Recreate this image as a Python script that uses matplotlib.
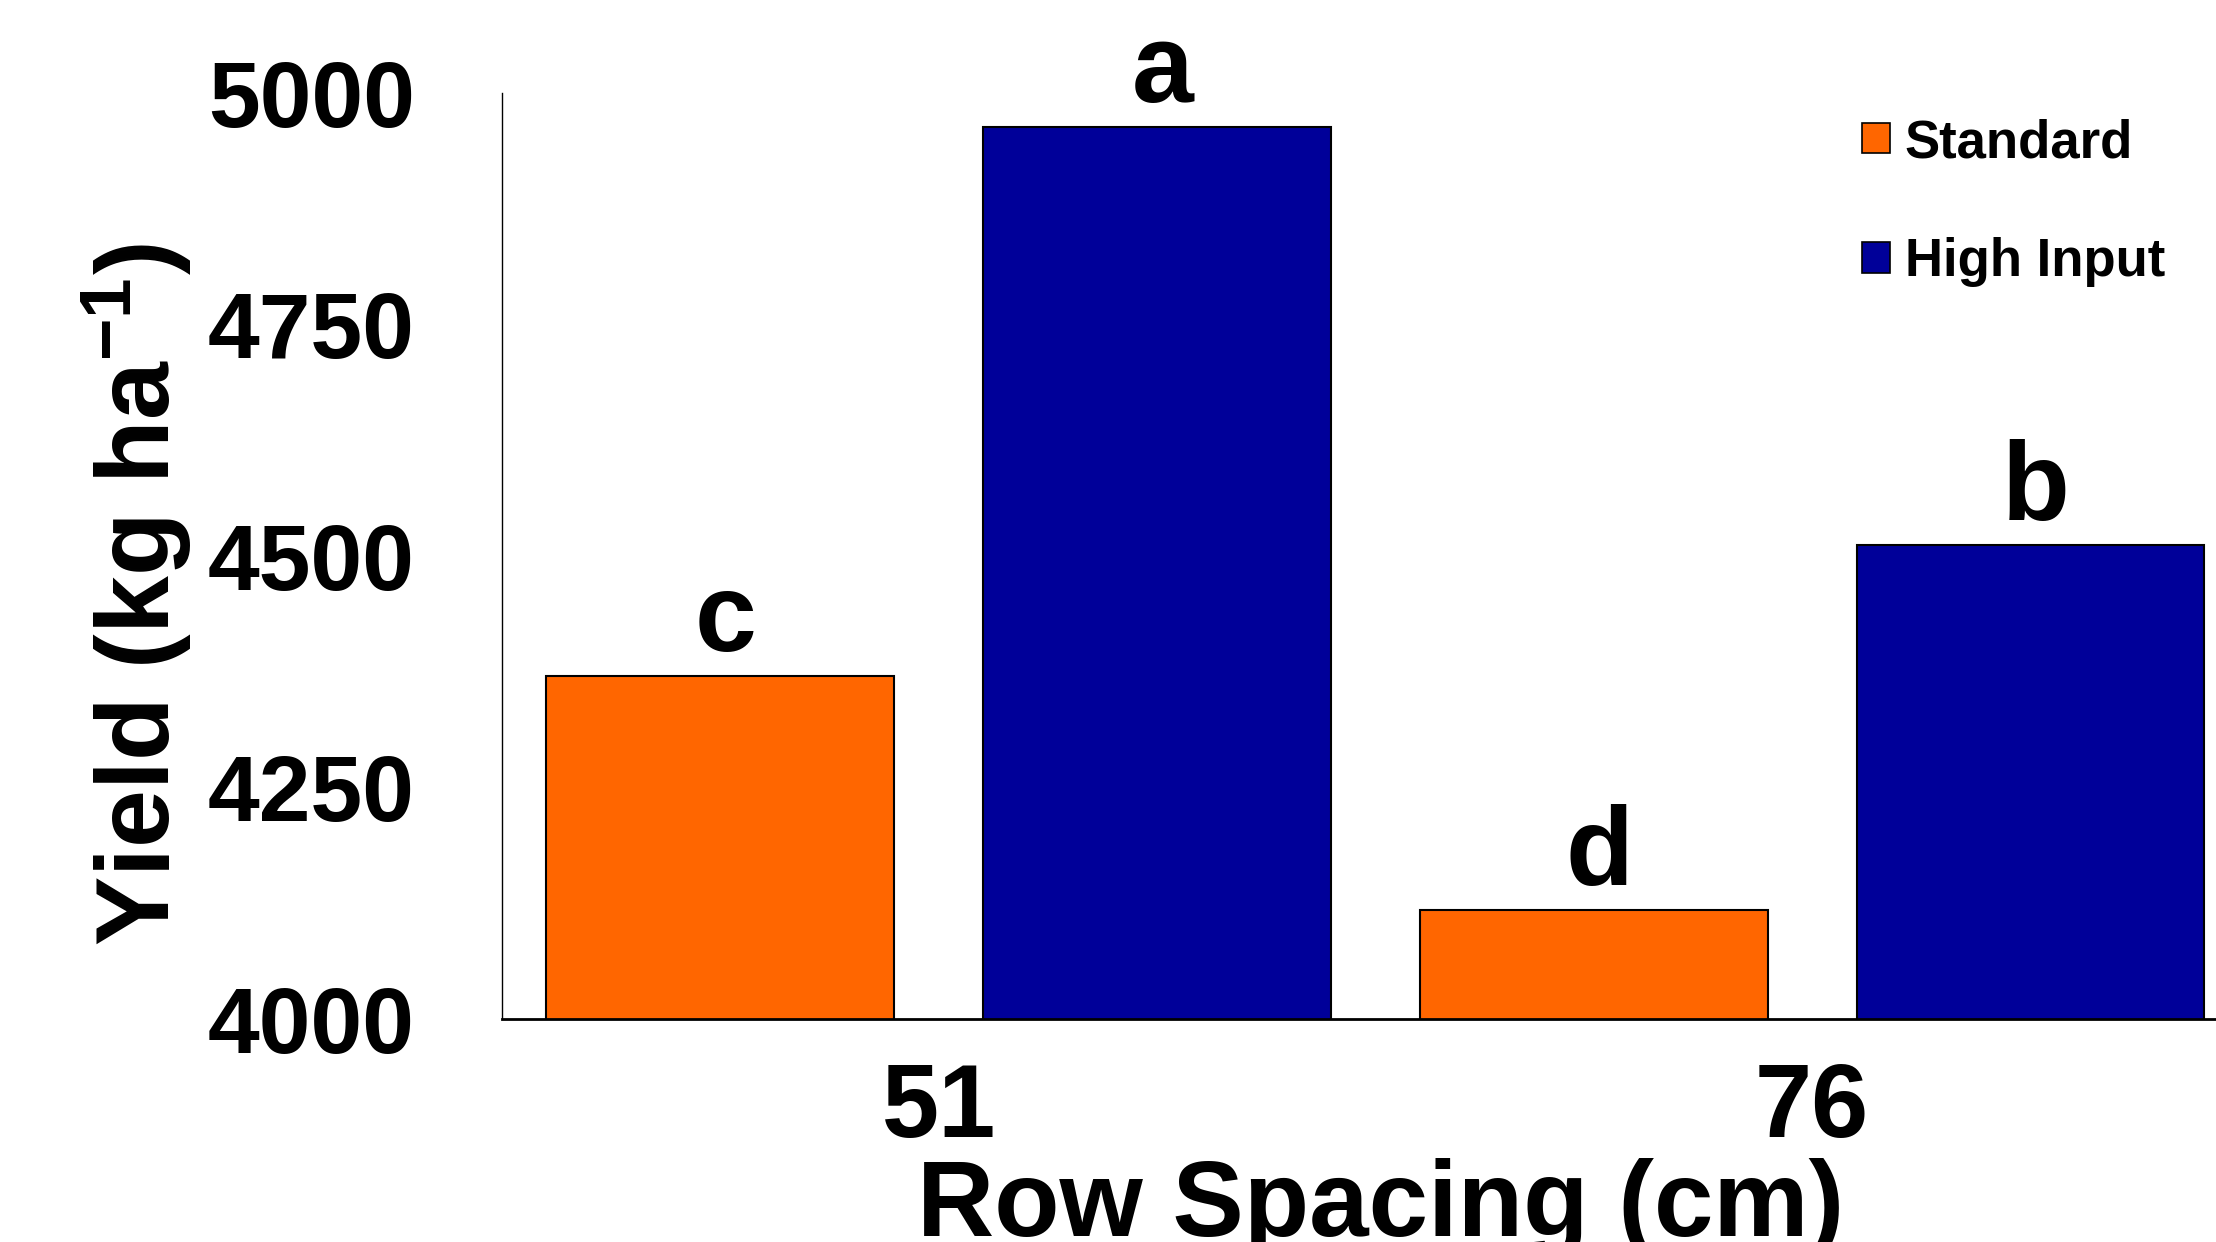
import numpy as np
import matplotlib
matplotlib.use('Agg')
import matplotlib.pyplot as plt
from matplotlib.patches import Patch

plt.rcParams['font.family'] = ['Liberation Sans', 'DejaVu Sans']
plt.rcParams['font.weight'] = 'bold'
plt.rcParams['mathtext.fontset'] = 'custom'
plt.rcParams['mathtext.rm'] = 'Liberation Sans:bold'
plt.rcParams['mathtext.bf'] = 'Liberation Sans:bold'
plt.rcParams['mathtext.default'] = 'bf'

# dati
row_spacing = ['51', '76']
treatments = ['Standard', 'High Input']
standard_yield = [4370, 4118]
high_input_yield = [4963, 4512]
standard_letters = ['c', 'd']
high_input_letters = ['a', 'b']

colors = {'Standard': '#FF6600', 'High Input': '#000099'}

fig = plt.figure(figsize=(22.16, 12.42), dpi=100)
ax = fig.add_axes([0.2265, 0.1795, 0.7883, 0.7456])

x = np.arange(len(row_spacing))
width = 0.398
offset = 0.25

bars_std = ax.bar(x - offset, standard_yield, width, color=colors['Standard'],
                  edgecolor='black', linewidth=1.5, label='Standard')
bars_hi = ax.bar(x + offset, high_input_yield, width, color=colors['High Input'],
                 edgecolor='black', linewidth=1.5, label='High Input')

# lettere di significatività sopra le barre
for bars, letters in [(bars_std, standard_letters), (bars_hi, high_input_letters)]:
    for b, lab in zip(bars, letters):
        ax.annotate(lab, (b.get_x() + b.get_width() / 2 + 0.006, b.get_height()),
                    xytext=(0, 18), textcoords='offset points',
                    ha='center', va='baseline', fontsize=80, fontweight='bold')

ax.set_xlim(-0.5, 1.5)
ax.set_ylim(4000, 5000)
ax.set_yticks([4000, 4250, 4500, 4750, 5000])
ax.set_xticks(x)
ax.set_xticklabels(row_spacing)

ax.tick_params(axis='y', length=0, pad=62.6, labelsize=67)
ax.tick_params(axis='x', length=0, pad=31, labelsize=74)

for s in ['top', 'right']:
    ax.spines[s].set_visible(False)
ax.spines['left'].set_linewidth(1.0)
ax.spines['bottom'].set_linewidth(2.0)

ax.set_ylabel(r'Yield (kg ha$^{-1}$)', fontsize=75, fontweight='bold',
              va='baseline')
ax.yaxis.set_label_coords(-0.190, 0.458)

ax.set_xlabel('Row Spacing (cm)', fontsize=77, fontweight='bold', va='baseline')
ax.xaxis.set_label_coords((1381 - 502) / 1747, (6 - 223) / 926)

handles = [Patch(facecolor=colors[t], edgecolor='black', linewidth=1.2) for t in treatments]
ax.legend(handles, treatments, loc='upper left',
          bbox_to_anchor=(1862 / 2216, 1 - 118 / 1242), bbox_transform=fig.transFigure,
          frameon=False, borderpad=0, borderaxespad=0,
          handlelength=0.53, handleheight=0.51, handletextpad=0.28,
          labelspacing=1.31, prop={'weight': 'bold', 'size': 38})

fig.savefig('out.png', dpi=100)
plt.close(fig)
